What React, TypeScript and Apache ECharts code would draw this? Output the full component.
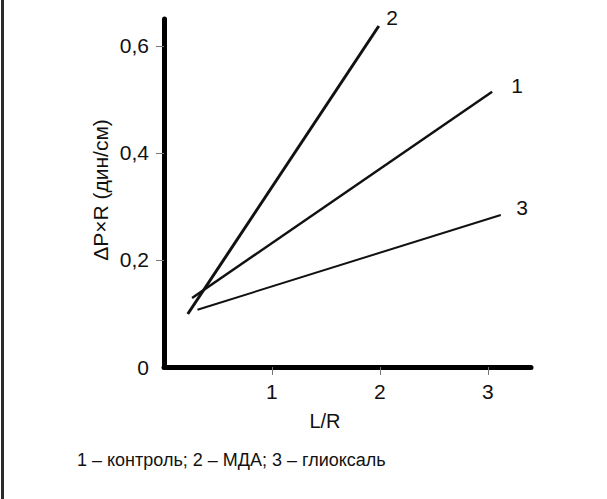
import React, { useEffect, useRef } from "react";
import * as echarts from "echarts";

const seriesNames = ["1", "2", "3"];
const line1 = [[0.26, 0.129], [3.04, 0.514]];
const line2 = [[0.22, 0.099], [1.99, 0.637]];
const line3 = [[0.31, 0.107], [3.12, 0.284]];
const xTicks = [1, 2, 3];
const yLabels = [0, 0.2, 0.4, 0.6];
const yTicks = [0.2, 0.4, 0.6];
const xTitle = "L/R";
const yTitle = "ΔP×R (дин/см)";
const caption = "1 – контроль; 2 – МДА; 3 – глиоксаль";

const FONT = "'Liberation Sans', Arial, sans-serif";
const TXT = "#111";

export default function App() {
  const ref = useRef<HTMLDivElement>(null);
  useEffect(() => {
    if (!ref.current) return;
    const chart = echarts.init(ref.current, null, { renderer: "svg" });
    const mk = (name: string, data: number[][], w: number) => ({
      name,
      type: "line",
      data,
      symbol: "none",
      lineStyle: { color: "#111", width: w },
      silent: true,
    });
    chart.setOption({
      animation: false,
      backgroundColor: "#fff",
      grid: { left: 164, right: 76, top: 19, bottom: 132 },
      xAxis: {
        type: "value",
        min: 0,
        max: 3.4,
        axisLine: { show: true, onZero: false, lineStyle: { color: "#000", width: 5 } },
        axisTick: { show: true, customValues: xTicks, length: 8, lineStyle: { color: "#777", width: 1 } },
        axisLabel: {
          customValues: xTicks,
          margin: 14,
          fontSize: 21,
          fontFamily: FONT,
          color: TXT,
        },
        splitLine: { show: false },
      },
      yAxis: {
        type: "value",
        min: 0,
        max: 0.65,
        axisLine: { show: true, onZero: false, lineStyle: { color: "#000", width: 5 } },
        axisTick: { show: true, customValues: yTicks, length: 8, lineStyle: { color: "#777", width: 1 } },
        axisLabel: {
          customValues: yLabels,
          margin: 15,
          fontSize: 21,
          fontFamily: FONT,
          color: TXT,
          formatter: (v: number) => (v === 0 ? "0" : v.toFixed(1).replace(".", ",")),
        },
        splitLine: { show: false },
      },
      series: [mk(seriesNames[0], line1, 2.5), mk(seriesNames[1], line2, 3), mk(seriesNames[2], line3, 2)],
      graphic: [
        { type: "rect", shape: { x: 1, y: 0, width: 3, height: 499 }, style: { fill: "#2b2b2b" } },
        { type: "text", x: 392, y: 17, style: { text: seriesNames[1], fontSize: 21, fontFamily: FONT, fill: TXT, align: "center", verticalAlign: "middle" } },
        { type: "text", x: 517, y: 85, style: { text: seriesNames[0], fontSize: 21, fontFamily: FONT, fill: TXT, align: "center", verticalAlign: "middle" } },
        { type: "text", x: 522, y: 207, style: { text: seriesNames[2], fontSize: 21, fontFamily: FONT, fill: TXT, align: "center", verticalAlign: "middle" } },
        { type: "text", x: 325, y: 421, style: { text: xTitle, fontSize: 20, fontFamily: FONT, fill: TXT, align: "center", verticalAlign: "middle" } },
        { type: "text", x: 100, y: 190, rotation: Math.PI / 2, style: { text: yTitle, fontSize: 21, fontFamily: FONT, fill: TXT, align: "center", verticalAlign: "middle" } },
        { type: "text", x: 77, y: 460, style: { text: caption, fontSize: 18, fontFamily: FONT, fill: TXT, align: "left", verticalAlign: "middle" } },
      ],
    });
    return () => chart.dispose();
  }, []);
  return <div ref={ref} style={{ position: "absolute", left: 0, top: 0, width: 607, height: 499 }} />;
}
